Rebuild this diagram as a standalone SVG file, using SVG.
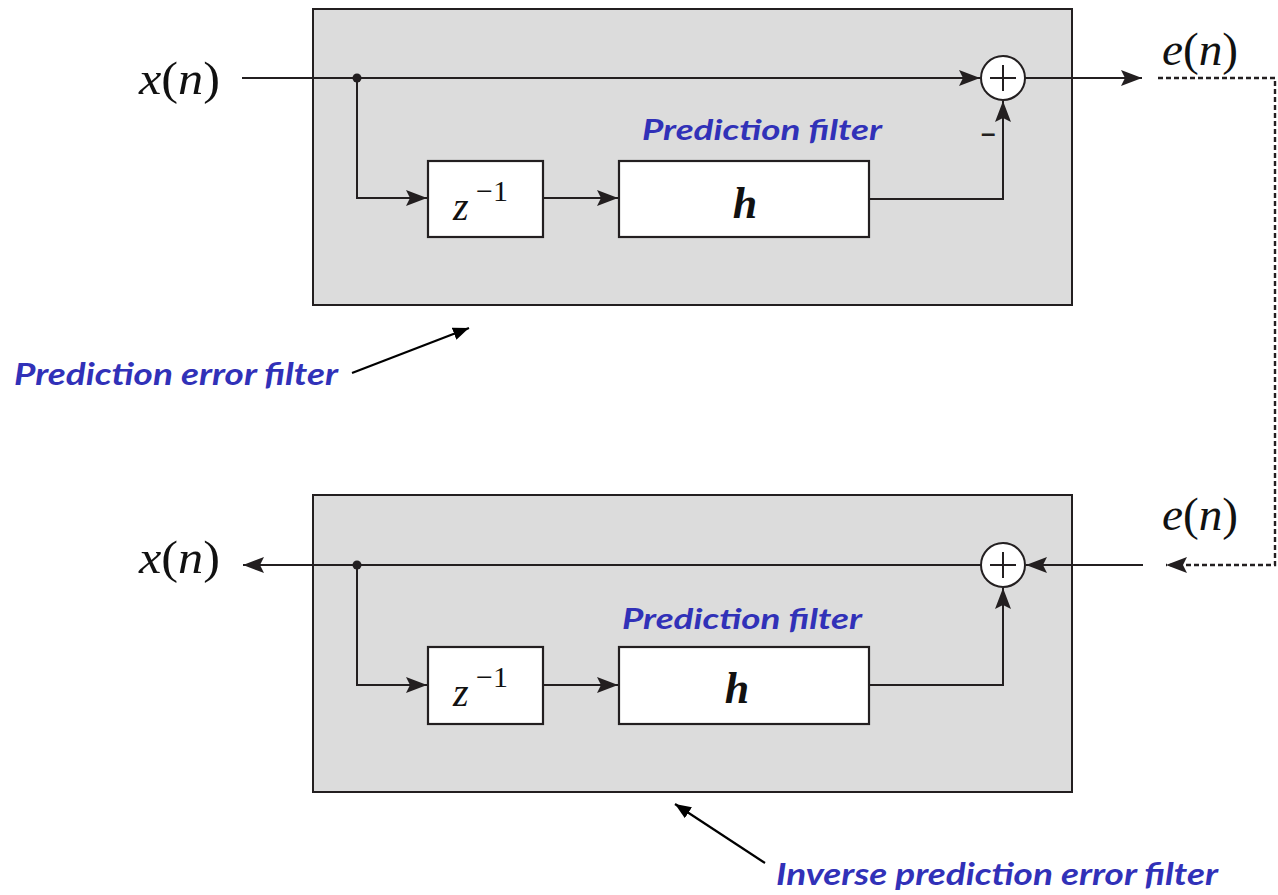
<svg xmlns="http://www.w3.org/2000/svg" width="1278" height="895" viewBox="0 0 1278 895">
  <defs>
    <marker id="ah" viewBox="0 0 21 16" refX="21" refY="8" markerWidth="21" markerHeight="16" markerUnits="userSpaceOnUse" orient="auto">
      <path d="M0,0 L21,8 L0,16 L4,8 Z" fill="#231f20"/>
    </marker>
    <marker id="ah2" viewBox="0 0 16 13" refX="16" refY="6.5" markerWidth="16" markerHeight="13" markerUnits="userSpaceOnUse" orient="auto">
      <path d="M0,0 L16,6.5 L0,13 Z" fill="#000"/>
    </marker>
    <style>
      .panel { fill: #dcdcdc; stroke: #231f20; stroke-width: 2; }
      .blk { fill: #fff; stroke: #231f20; stroke-width: 2.2; }
      .sum { fill: #fff; stroke: #231f20; stroke-width: 2; }
      .wire { fill: none; stroke: #231f20; stroke-width: 2; }
      .arr { marker-end: url(#ah); }
      .dash { fill: none; stroke: #231f20; stroke-width: 2.4; stroke-dasharray: 5 3; }
      .plus { stroke: #231f20; stroke-width: 2; }
      .math { font-family: "Liberation Serif", "DejaVu Serif", serif; font-style: italic; fill: #111; }
      .up { font-style: normal; }
      .note { font-family: Lato, "Open Sans", sans-serif; font-weight: bold; font-style: italic; fill: #3131b8; }
      .callout { stroke: #000; stroke-width: 2.2; fill: none; marker-end: url(#ah2); }
      .minus { font-family: "Liberation Sans", Arial, sans-serif; font-weight: bold; fill: #231f20; }
    </style>
  </defs>

  <!-- prediction error filter (analysis) -->
  <g id="pef">
    <rect class="panel" x="313" y="9" width="759" height="296"/>
  </g>
  <!-- inverse prediction error filter (synthesis) -->
  <g id="ipef">
    <rect class="panel" x="313" y="495" width="759" height="297"/>
  </g>

  <g id="delay-top">
    <rect class="blk" x="428" y="161" width="115" height="76"/>
    <text class="math" x="453" y="220" font-size="40">z</text>
    <text class="math up" x="476" y="201" font-size="30">−1</text>
  </g>
  <g id="pred-top">
    <rect class="blk" x="619" y="161" width="250" height="76"/>
    <text class="math" x="745" y="218" font-size="44" font-weight="bold" text-anchor="middle">h</text>
  </g>
  <g id="sum-top">
    <circle class="sum" cx="1003" cy="78" r="22"/>
    <line class="plus" x1="990" y1="78" x2="1016" y2="78"/>
    <line class="plus" x1="1003" y1="65" x2="1003" y2="91"/>
  </g>

  <g id="delay-bot">
    <rect class="blk" x="428" y="647" width="115" height="77"/>
    <text class="math" x="453" y="706" font-size="40">z</text>
    <text class="math up" x="476" y="687" font-size="30">−1</text>
  </g>
  <g id="pred-bot">
    <rect class="blk" x="619" y="647" width="250" height="77"/>
    <text class="math" x="737" y="703" font-size="44" font-weight="bold" text-anchor="middle">h</text>
  </g>
  <g id="sum-bot">
    <circle class="sum" cx="1003" cy="565" r="22"/>
    <line class="plus" x1="990" y1="565" x2="1016" y2="565"/>
    <line class="plus" x1="1003" y1="552" x2="1003" y2="578"/>
  </g>

  <g id="connectors">
    <!-- top signal path -->
    <line class="wire arr" x1="242" y1="78" x2="980" y2="78"/>
    <polyline class="wire arr" points="357,78 357,198 427,198"/>
    <line class="wire arr" x1="543" y1="198" x2="618" y2="198"/>
    <polyline class="wire arr" points="869,199 1003,199 1003,101"/>
    <line class="wire arr" x1="1025" y1="78" x2="1142" y2="78"/>
    <circle cx="357" cy="78" r="4.5" fill="#231f20"/>
    <!-- e(n) link between stages -->
    <polyline class="dash arr" points="1158,78 1275,78 1275,565 1166,565"/>
    <!-- bottom signal path -->
    <line class="wire arr" x1="1143" y1="565" x2="1026" y2="565"/>
    <line class="wire arr" x1="981" y1="565" x2="243" y2="565"/>
    <polyline class="wire arr" points="357,565 357,685 427,685"/>
    <line class="wire arr" x1="543" y1="685" x2="618" y2="685"/>
    <polyline class="wire arr" points="869,685 1003,685 1003,588"/>
    <circle cx="357" cy="565" r="4.5" fill="#231f20"/>
    <!-- callouts -->
    <line class="callout" x1="352" y1="373" x2="469" y2="328"/>
    <line class="callout" x1="765" y1="863" x2="675" y2="804"/>
  </g>

  <g id="labels">
    <text class="math" x="139" y="94" font-size="46" textLength="81" lengthAdjust="spacingAndGlyphs">x<tspan class="up">(</tspan>n<tspan class="up">)</tspan></text>
    <text class="math" x="139" y="573" font-size="46" textLength="81" lengthAdjust="spacingAndGlyphs">x<tspan class="up">(</tspan>n<tspan class="up">)</tspan></text>
    <text class="math" x="1162" y="65" font-size="46" textLength="76" lengthAdjust="spacingAndGlyphs">e<tspan class="up">(</tspan>n<tspan class="up">)</tspan></text>
    <text class="math" x="1162" y="530" font-size="46" textLength="76" lengthAdjust="spacingAndGlyphs">e<tspan class="up">(</tspan>n<tspan class="up">)</tspan></text>
    <text class="minus" x="981" y="142" font-size="26">–</text>
    <text class="note" x="642" y="140" font-size="29" textLength="240" lengthAdjust="spacingAndGlyphs">Prediction filter</text>
    <text class="note" x="622" y="629" font-size="29" textLength="240" lengthAdjust="spacingAndGlyphs">Prediction filter</text>
    <text class="note" x="14" y="385" font-size="30" textLength="324" lengthAdjust="spacingAndGlyphs">Prediction error filter</text>
    <text class="note" x="776" y="885" font-size="30" textLength="442" lengthAdjust="spacingAndGlyphs">Inverse prediction error filter</text>
  </g>
</svg>
